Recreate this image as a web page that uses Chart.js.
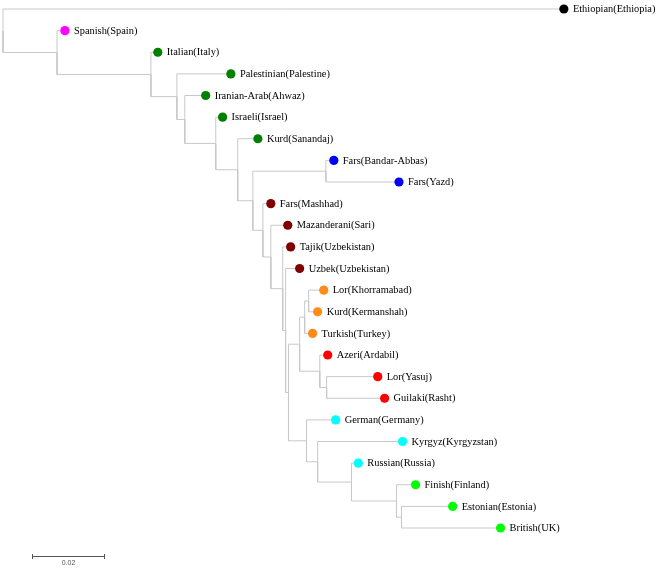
<!DOCTYPE html>
<html>
<head>
<meta charset="utf-8">
<script src="https://cdn.jsdelivr.net/npm/chart.js@4/dist/chart.umd.min.js"></script>
<style>
  html, body { margin: 0; padding: 0; background: #fff; }
  #wrap { width: 661px; height: 568px; position: relative; }
</style>
</head>
<body>
<div id="wrap"><canvas id="tree"></canvas></div>
<script>
// taxa, top to bottom
const taxa = [
  'Ethiopian(Ethiopia)', 'Spanish(Spain)', 'Italian(Italy)', 'Palestinian(Palestine)',
  'Iranian-Arab(Ahwaz)', 'Israeli(Israel)', 'Kurd(Sanandaj)', 'Fars(Bandar-Abbas)',
  'Fars(Yazd)', 'Fars(Mashhad)', 'Mazanderani(Sari)', 'Tajik(Uzbekistan)',
  'Uzbek(Uzbekistan)', 'Lor(Khorramabad)', 'Kurd(Kermanshah)', 'Turkish(Turkey)',
  'Azeri(Ardabil)', 'Lor(Yasuj)', 'Guilaki(Rasht)', 'German(Germany)',
  'Kyrgyz(Kyrgyzstan)', 'Russian(Russia)', 'Finish(Finland)', 'Estonian(Estonia)',
  'British(UK)'
];

const taxonColors = [
  '#000000', '#ff00ff', '#008000', '#008000',
  '#008000', '#008000', '#008000', '#0000ff',
  '#0000ff', '#800000', '#800000', '#800000',
  '#800000', '#ff8c1a', '#ff8c1a', '#ff8c1a',
  '#ff0000', '#ff0000', '#ff0000', '#00ffff',
  '#00ffff', '#00ffff', '#00ff00', '#00ff00',
  '#00ff00'
];

// tree edges: parent -> child with branch length
const edgeParent = [
  'root', 'root', 'n1', 'n1', 'n2', 'n2', 'n3', 'n3', 'n4', 'n4',
  'n5', 'n5', 'n6', 'n6', 'n7', 'n8', 'n8', 'n7', 'n9', 'n9',
  'n10', 'n10', 'n11', 'n11', 'n12', 'n12', 'n13', 'n14', 'n15', 'n16',
  'n16', 'n15', 'n14', 'n17', 'n17', 'n18', 'n18', 'n13', 'n19', 'n19',
  'n20', 'n20', 'n21', 'n21', 'n22', 'n22', 'n23', 'n23'
];
const edgeChild = [
  'Ethiopian(Ethiopia)', 'n1', 'Spanish(Spain)', 'n2', 'Italian(Italy)', 'n3',
  'Palestinian(Palestine)', 'n4', 'Iranian-Arab(Ahwaz)', 'n5',
  'Israeli(Israel)', 'n6', 'Kurd(Sanandaj)', 'n7', 'n8',
  'Fars(Bandar-Abbas)', 'Fars(Yazd)', 'n9', 'Fars(Mashhad)', 'n10',
  'Mazanderani(Sari)', 'n11', 'Tajik(Uzbekistan)', 'n12', 'Uzbek(Uzbekistan)', 'n13',
  'n14', 'n15', 'n16', 'Lor(Khorramabad)',
  'Kurd(Kermanshah)', 'Turkish(Turkey)', 'n17', 'Azeri(Ardabil)', 'n18',
  'Lor(Yasuj)', 'Guilaki(Rasht)', 'n19', 'German(Germany)', 'n20',
  'Kyrgyz(Kyrgyzstan)', 'n21', 'Russian(Russia)', 'n22', 'Finish(Finland)', 'n23',
  'Estonian(Estonia)', 'British(UK)'
];
const branchLength = [
  0.1558, 0.0150, 0.0022, 0.0261, 0.0019, 0.0072, 0.0150, 0.0022, 0.0058, 0.0086,
  0.0019, 0.0061, 0.0056, 0.0042, 0.0203, 0.0022, 0.0203, 0.0028, 0.0022, 0.0022,
  0.0047, 0.0033, 0.0022, 0.0008, 0.0039, 0.0008, 0.0031, 0.0014, 0.0011, 0.0042,
  0.0025, 0.0022, 0.0056, 0.0022, 0.0019, 0.0142, 0.0161, 0.0050, 0.0081, 0.0031,
  0.0236, 0.0094, 0.0019, 0.0125, 0.0053, 0.0014, 0.0142, 0.0275
];

const scaleBarLength = 0.02;

// layout: x = cumulative branch length, y = row (internal = midpoint of children)
const nodeX = { root: 0 };
for (let i = 0; i < edgeChild.length; i++) {
  nodeX[edgeChild[i]] = nodeX[edgeParent[i]] + branchLength[i];
}
const nodeY = {};
function getY(name) {
  if (nodeY[name] !== undefined) return nodeY[name];
  const idx = taxa.indexOf(name);
  if (idx >= 0) {
    nodeY[name] = idx;
  } else {
    const kids = edgeChild.filter((c, i) => edgeParent[i] === name).map(getY);
    nodeY[name] = (Math.min(...kids) + Math.max(...kids)) / 2;
  }
  return nodeY[name];
}
getY('root');

const branchSets = edgeChild.map((child, i) => {
  const p = edgeParent[i];
  return {
    type: 'line',
    data: [
      { x: nodeX[p], y: nodeY[p] },
      { x: nodeX[p], y: nodeY[child] },
      { x: nodeX[child], y: nodeY[child] }
    ],
    borderColor: '#c8c8c8',
    borderWidth: 1,
    pointRadius: 0,
    tension: 0,
    order: 2
  };
});

const tipSet = {
  type: 'scatter',
  data: taxa.map((t) => ({ x: nodeX[t], y: nodeY[t] })),
  pointRadius: 4.6,
  pointBackgroundColor: taxonColors,
  pointBorderWidth: 0,
  borderWidth: 0,
  order: 1
};

const labelPlugin = {
  id: 'tipLabels',
  afterDatasetsDraw(chart) {
    const ctx = chart.ctx;
    const xs = chart.scales.x, ys = chart.scales.y;
    ctx.save();
    ctx.font = '10.4px "Liberation Serif", "Times New Roman", serif';
    ctx.fillStyle = '#000';
    ctx.textBaseline = 'middle';
    taxa.forEach((t) => {
      ctx.fillText(t, xs.getPixelForValue(nodeX[t]) + 9, ys.getPixelForValue(nodeY[t]) + 0.5);
    });

    // scale bar
    const x0 = 32.5, y0 = 556.5;
    const len = xs.getPixelForValue(scaleBarLength) - xs.getPixelForValue(0);
    ctx.strokeStyle = '#555';
    ctx.lineWidth = 1;
    ctx.beginPath();
    ctx.moveTo(x0, y0); ctx.lineTo(x0 + len, y0);
    ctx.moveTo(x0, y0 - 2.5); ctx.lineTo(x0, y0 + 2.5);
    ctx.moveTo(x0 + len, y0 - 2.5); ctx.lineTo(x0 + len, y0 + 2.5);
    ctx.stroke();
    ctx.font = '7px "Liberation Sans", Arial, sans-serif';
    ctx.fillStyle = '#555';
    ctx.textAlign = 'center';
    ctx.fillText(String(scaleBarLength), x0 + len / 2, y0 + 7);
    ctx.restore();
  }
};

const pxPerUnit = 72 / scaleBarLength;
new Chart(document.getElementById('tree'), {
  data: { datasets: [...branchSets, tipSet] },
  options: {
    responsive: true,
    maintainAspectRatio: false,
    animation: false,
    events: [],
    layout: { padding: 0, autoPadding: false },
    plugins: { legend: { display: false }, tooltip: { enabled: false } },
    scales: {
      x: {
        type: 'linear',
        display: false,
        min: -3 / pxPerUnit,
        max: (661 - 3) / pxPerUnit
      },
      y: {
        type: 'linear',
        display: false,
        reverse: true,
        min: -9 / 21.625,
        max: (568 - 9) / 21.625
      }
    }
  },
  plugins: [labelPlugin]
});
</script>
</body>
</html>
